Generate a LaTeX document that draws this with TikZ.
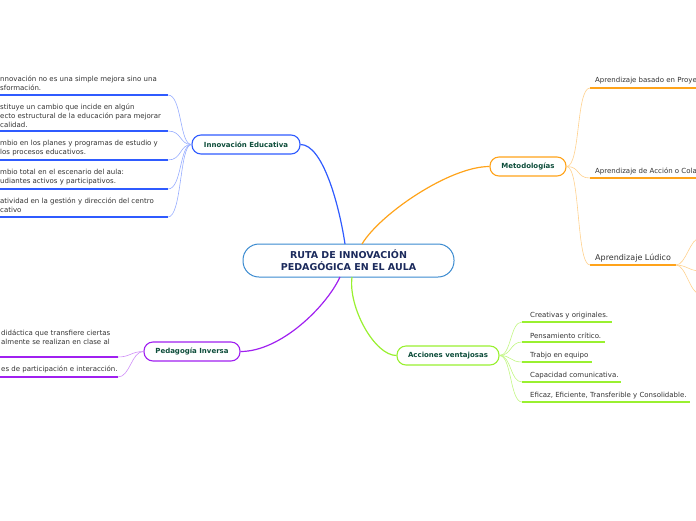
\documentclass[tikz,border=0pt]{standalone}
\usepackage{fontspec}
\setmainfont{DejaVu Sans}
\usetikzlibrary{positioning}
\definecolor{rootblue}{HTML}{3A8AD0}
\definecolor{roottext}{HTML}{1B2A5C}
\definecolor{topictext}{HTML}{0D4D3A}
\definecolor{leafgray}{HTML}{333333}
\definecolor{innblue}{HTML}{2F5BFF}
\definecolor{metorange}{HTML}{FFA31A}
\definecolor{accgreen}{HTML}{99F030}
\definecolor{pedpurple}{HTML}{A020F0}

\begin{document}
\begin{tikzpicture}[x=1pt, y=-1pt,
        root/.style={rectangle, draw=rootblue, line width=1pt, fill=white, rounded corners=16pt, minimum width=211pt, minimum height=33pt, align=center, text=roottext, font=\fontsize{9.5}{12}\selectfont\bfseries},
        topic/.style={rectangle, draw, line width=1.1pt, fill=white, rounded corners=9pt, minimum height=19pt, text=topictext, font=\fontsize{7}{8}\selectfont\bfseries},
        leaf/.style={anchor=south west, inner sep=0pt, align=left, text=leafgray, font=\fontsize{7}{9}\selectfont},
        bar/.style={line width=2pt},
        branch/.style={line width=1.2pt},
        twig/.style={line width=0.6pt}]

    \clip (0,0) rectangle (696,520);

    % central topic and main branches
    \node [root] (ruta) at (348.5,260.5) {RUTA DE INNOVACIÓN\\PEDAGÓGICA EN EL AULA};
    \node [topic, draw=innblue, minimum width=108pt] (innov) at (246,144.5) {Innovación Educativa};
    \node [topic, draw=metorange, minimum width=76pt] (metod) at (528,166.5) {Metodologías};
    \node [topic, draw=accgreen, minimum width=102pt] (acc) at (448,355.5) {Acciones ventajosas};
    \node [topic, draw=pedpurple, minimum width=96pt] (ped) at (192,351.5) {Pedagogía Inversa};

    \draw [branch, innblue] (innov.east) .. controls +(22,0) and +(-6,-40) .. (345,244);
    \draw [branch, metorange] (metod.west) .. controls +(-40,0) and +(18,-30) .. (362,244);
    \draw [branch, accgreen] (acc.west) .. controls +(-22,0) and +(-4,30) .. (352,277);
    \draw [branch, pedpurple] (ped.east) .. controls +(40,0) and +(-14,30) .. (340,277);

    % Innovación Educativa
    \foreach \y/\n in {95/1, 131/2, 160/3, 189/4, 217/5} {
        \coordinate (ia\n) at (0,\y);
        \coordinate (ib\n) at (168,\y);
        \draw [bar, innblue] (ia\n) -- (ib\n);
        \draw [twig, innblue!50] (ib\n) .. controls +(14,0) and +(-12,0) .. (innov.west);
    }
    \node [leaf] (il1) at (0,91) {nnovación no es una simple mejora sino una\\sformación.};
    \node [leaf] (il2) at (0,128) {stituye un cambio que incide en algún\\ecto estructural de la educación para mejorar\\calidad.};
    \node [leaf] (il3) at (0,156) {mbio en los planes y programas de estudio y\\los procesos educativos.};
    \node [leaf] (il4) at (0,185) {mbio total en el escenario del aula:\\udiantes activos y participativos.};
    \node [leaf] (il5) at (0,213) {atividad en la gestión y dirección del centro\\cativo};

    % Metodologías
    \coordinate (ma1) at (590,88);
    \coordinate (ma2) at (590,178);
    \coordinate (ma3) at (590,265);
    \draw [bar, metorange] (ma1) -- (696,88);
    \draw [bar, metorange] (ma2) -- (696,178);
    \draw [bar, metorange] (ma3) -- (676,265) coordinate (mb3);
    \foreach \n in {1,2,3}
        \draw [twig, metorange!50] (metod.east) .. controls +(14,0) and +(-14,0) .. (ma\n);
    \node [leaf] (ml1) at (595,84) {Aprendizaje basado en Proye};
    \node [leaf] (ml2) at (595,175) {Aprendizaje de Acción o Cola};
    \node [leaf, font=\fontsize{8}{9}\selectfont] (ml3) at (595,262) {Aprendizaje Lúdico};

    \coordinate (lu1) at (700,238);
    \coordinate (lu2) at (700,271);
    \coordinate (lu3) at (700,294);
    \foreach \n in {1,2,3}
        \draw [twig, metorange!50] (mb3) .. controls +(10,0) and +(-10,0) .. (lu\n);

    % Acciones ventajosas
    \foreach \y/\x/\n in {322/612/1, 342/605/2, 362/592/3, 382/621/4, 402/690/5} {
        \coordinate (aa\n) at (522,\y);
        \draw [bar, accgreen] (aa\n) -- (\x,\y);
        \draw [twig, accgreen!60] (acc.east) .. controls +(12,0) and +(-12,0) .. (aa\n);
    }
    \node [leaf] (al1) at (530,319) {Creativas y originales.};
    \node [leaf] (al2) at (530,339) {Pensamiento crítico.};
    \node [leaf] (al3) at (530,359) {Trabjo en equipo};
    \node [leaf] (al4) at (530,379) {Capacidad comunicativa.};
    \node [leaf] (al5) at (530,399) {Eficaz, Eficiente, Transferible y Consolidable.};

    % Pedagogía Inversa
    \coordinate (pa1) at (0,357);
    \coordinate (pb1) at (118,357);
    \coordinate (pa2) at (0,377);
    \coordinate (pb2) at (118,377);
    \draw [bar, pedpurple] (pa1) -- (pb1);
    \draw [bar, pedpurple] (pa2) -- (pb2);
    \draw [twig, pedpurple!50] (pb1) .. controls +(12,0) and +(-12,0) .. (ped.west);
    \draw [twig, pedpurple!50] (pb2) .. controls +(12,0) and +(-12,0) .. (ped.west);
    \node [leaf] (pl1) at (1,345) {didáctica que transfiere ciertas\\almente se realizan en clase al};
    \node [leaf] (pl2) at (1,373) {es de participación e interacción.};
\end{tikzpicture}
\end{document}
